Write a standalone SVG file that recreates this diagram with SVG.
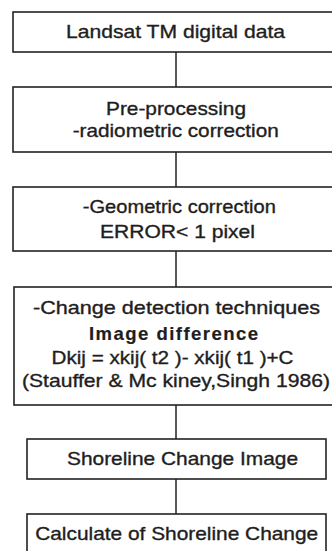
<svg xmlns="http://www.w3.org/2000/svg" width="332" height="551" viewBox="0 0 332 551">
<style>
.box{fill:#fff;stroke:#222;stroke-width:1.6}
.c{stroke:#222;stroke-width:1.5;fill:none}
text{font-family:"Liberation Sans",Arial,sans-serif;font-size:18.5px;fill:#1e1e1e;stroke:#1e1e1e;stroke-width:0.35;text-anchor:middle}
.b{font-weight:bold;stroke-width:0.2}
</style>
<rect width="332" height="551" fill="#fff"/>
<g id="connectors">
<line class="c" x1="176" y1="52" x2="176" y2="87"/>
<line class="c" x1="176" y1="152" x2="176" y2="187"/>
<line class="c" x1="176" y1="251" x2="176" y2="287"/>
<line class="c" x1="176" y1="405" x2="176" y2="439"/>
<line class="c" x1="176" y1="479" x2="176" y2="514"/>
</g>
<g id="n1">
<rect class="box" x="13" y="12" width="330" height="40"/>
<text x="175.5" y="38" textLength="219" lengthAdjust="spacingAndGlyphs">Landsat TM digital data</text>
</g>
<g id="n2">
<rect class="box" x="13" y="87" width="330" height="65"/>
<text x="176" y="115" textLength="140" lengthAdjust="spacingAndGlyphs">Pre-processing</text>
<text x="175.7" y="137" textLength="206" lengthAdjust="spacingAndGlyphs">-radiometric correction</text>
</g>
<g id="n3">
<rect class="box" x="13" y="187" width="330" height="64"/>
<text x="179.3" y="213" textLength="193" lengthAdjust="spacingAndGlyphs">-Geometric correction</text>
<text x="177.5" y="237.5" textLength="155" lengthAdjust="spacingAndGlyphs">ERROR&lt; 1 pixel</text>
</g>
<g id="n4">
<rect class="box" x="14" y="287" width="330" height="118"/>
<text x="176.5" y="313.5" textLength="287" lengthAdjust="spacingAndGlyphs">-Change detection  techniques</text>
<text class="b" x="173.5" y="339.5" textLength="169" lengthAdjust="spacing">Image difference</text>
<text x="172.5" y="363.5" textLength="242" lengthAdjust="spacingAndGlyphs">Dkij = xkij( t2 )- xkij( t1 )+C</text>
<text x="176" y="387" textLength="308" lengthAdjust="spacingAndGlyphs">(Stauffer &amp; Mc kiney,Singh 1986)</text>
</g>
<g id="n5">
<rect class="box" x="27" y="439" width="299" height="40"/>
<text x="182.5" y="465" textLength="231" lengthAdjust="spacingAndGlyphs">Shoreline Change Image</text>
</g>
<g id="n6">
<rect class="box" x="27" y="514" width="299" height="50"/>
<text x="176.7" y="540" textLength="283" lengthAdjust="spacingAndGlyphs">Calculate of Shoreline Change</text>
</g>
</svg>
